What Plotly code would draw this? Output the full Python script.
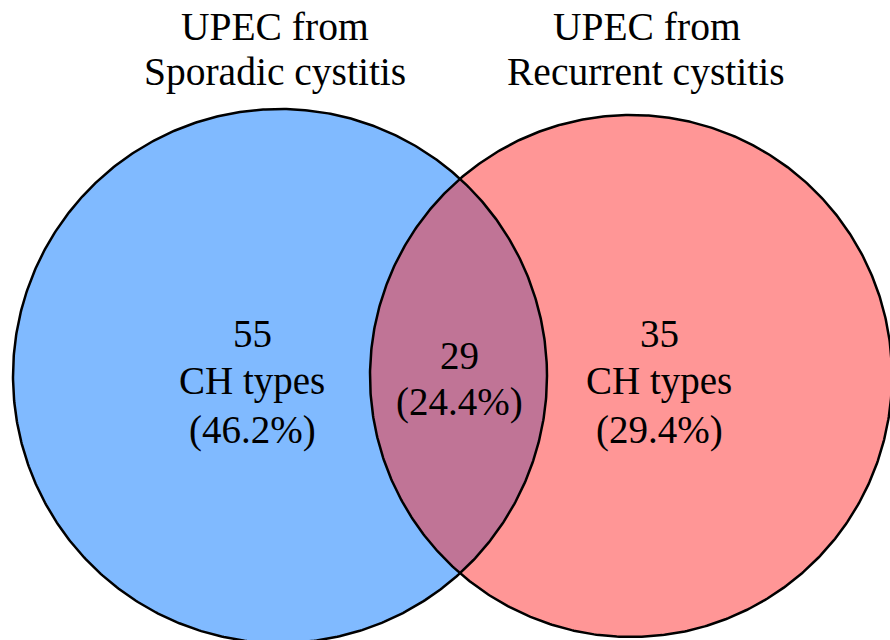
import numpy as np
import plotly.graph_objects as go

# ---- data ----
title_lines_left = ["UPEC from", "Sporadic cystitis"]
title_lines_right = ["UPEC from", "Recurrent cystitis"]
only_left = 55
shared = 29
only_right = 35
pct_left = "(46.2%)"
pct_shared = "(24.4%)"
pct_right = "(29.4%)"
unit_label = "CH types"

# ---- geometry (pixel space) ----
W, H = 890, 640
cL, rL = (280.0, 376.0), 267.0
cR, rR = (631.0, 376.0), 261.0
blue = "#80BAFF"
pink = "#FF9696"
mix = "#C07496"
font = "Liberation Serif, Times New Roman, serif"

def circle(c, r, n=720):
    t = np.linspace(0, 2 * np.pi, n)
    return c[0] + r * np.cos(t), c[1] + r * np.sin(t)

# intersection of the two circles -> lens region
d = cR[0] - cL[0]
a = (rL**2 - rR**2 + d**2) / (2 * d)
h = np.sqrt(rL**2 - a**2)
xi = cL[0] + a
a1 = np.arctan2(-h, xi - cR[0]) % (2 * np.pi)
a2 = np.arctan2(h, xi - cR[0])
tR = np.linspace(a1, a2, 200)
b1 = np.arctan2(h, xi - cL[0])
b2 = np.arctan2(-h, xi - cL[0])
tL = np.linspace(b1, b2, 200)
lens_x = np.concatenate([cR[0] + rR * np.cos(tR), cL[0] + rL * np.cos(tL)])
lens_y = np.concatenate([cR[1] + rR * np.sin(tR), cL[1] + rL * np.sin(tL)])

fig = go.Figure()
x, y = circle(cL, rL)
fig.add_trace(go.Scatter(x=x, y=y, fill="toself", fillcolor=blue, mode="none", hoverinfo="skip"))
x, y = circle(cR, rR)
fig.add_trace(go.Scatter(x=x, y=y, fill="toself", fillcolor=pink, mode="none", hoverinfo="skip"))
fig.add_trace(go.Scatter(x=lens_x, y=lens_y, fill="toself", fillcolor=mix, mode="none", hoverinfo="skip"))
for c, r in [(cL, rL), (cR, rR)]:
    x, y = circle(c, r)
    fig.add_trace(go.Scatter(x=x, y=y, mode="lines", line=dict(color="black", width=2.5), hoverinfo="skip"))

def ann(txt, x, y, size):
    fig.add_annotation(x=x, y=y, text=txt, showarrow=False, xanchor="center", yanchor="middle",
                       font=dict(family=font, size=size, color="black"))

TS, IS = 39.5, 39
ann(title_lines_left[0], 275, 27, TS)
ann(title_lines_left[1], 275, 72, TS)
ann(title_lines_right[0], 647, 27, TS)
ann(title_lines_right[1], 646, 72, TS)

ann(str(only_left), 252, 333, IS)
ann(unit_label, 252, 381, IS)
ann(pct_left, 252, 430, IS)
ann(str(shared), 459, 355, IS)
ann(pct_shared, 459, 402, IS)
ann(str(only_right), 659, 333, IS)
ann(unit_label, 659, 381, IS)
ann(pct_right, 659, 430, IS)

fig.update_layout(
    width=W, height=H, margin=dict(l=0, r=0, t=0, b=0),
    paper_bgcolor="white", plot_bgcolor="white", showlegend=False,
    xaxis=dict(range=[0, W], visible=False, fixedrange=True),
    yaxis=dict(range=[H, 0], visible=False, fixedrange=True),
)
fig.write_html("out.html", post_script="document.body.style.margin='0';", config={"displayModeBar": False})
